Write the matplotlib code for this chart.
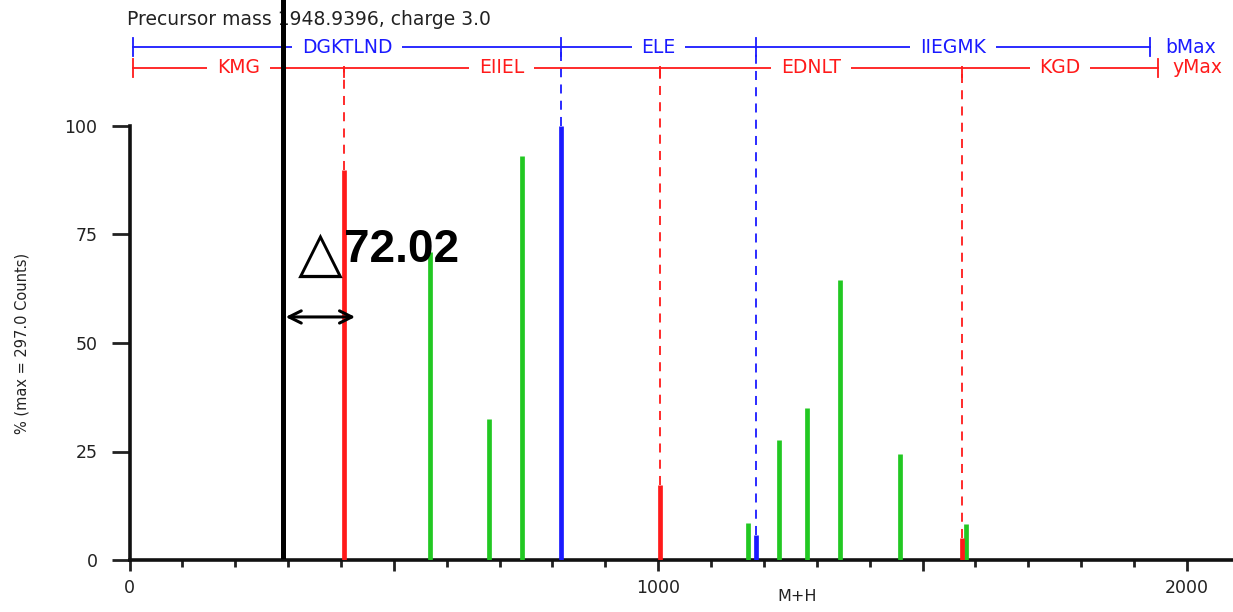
import matplotlib
matplotlib.use("Agg")
import matplotlib.pyplot as plt

# fragment peaks (M+H, % of max)
b_ion_mz = [816, 1185]
b_ion_int = [100, 5.8]
y_ion_mz = [405, 1003, 1575]
y_ion_int = [89.9, 17.3, 5.0]
other_mz = [568, 680, 742, 1170, 1228, 1282, 1344, 1457, 1582]
other_int = [70.9, 32.5, 93.0, 8.5, 27.6, 35.0, 64.5, 24.4, 8.3]

# sequence ladders
b_start, b_end = 7, 1930
b_labels = ["DGKTLND", "ELE", "IIEGMK"]
y_start, y_end = 7, 1945
y_labels = ["KMG", "EIIEL", "EDNLT", "KGD"]

title = "Precursor mass 1948.9396, charge 3.0"
marker_mz = 290
delta_text = "72.02"

RED = "#ff1a1a"
BLUE = "#1a1aff"
GREEN = "#22c822"
GREY = "#222222"

fig = plt.figure(figsize=(12.33, 6.12), dpi=100)
ax = fig.add_axes([129.5 / 1233, 52 / 612, 1 - 129.5 / 1233, 434 / 612])
ax.set_xlim(0, 2087)
ax.set_ylim(0, 100)

for s in ["top", "right"]:
    ax.spines[s].set_visible(False)
ax.spines["left"].set_linewidth(2.6)
ax.spines["bottom"].set_linewidth(2.6)
ax.spines["left"].set_color("#111111")
ax.spines["bottom"].set_color("#111111")

ax.set_xticks([0, 500, 1000, 1500, 2000])
ax.set_xticklabels(["0", "", "1000", "", "2000"])
ax.set_xticks(range(0, 2100, 100), minor=True)
ax.set_yticks([0, 25, 50, 75, 100])
ax.tick_params(axis="x", which="major", length=8, width=2, pad=6, labelsize=12.5, colors=GREY)
ax.tick_params(axis="x", which="minor", length=5, width=2, colors=GREY)
ax.tick_params(axis="y", which="major", length=13, width=2, pad=10, labelsize=12.5, colors=GREY)

ax.set_ylabel("% (max = 297.0 Counts)", fontsize=10.5, color=GREY)
ax.yaxis.set_label_coords(-0.091, 0.5)
ax.text(1262, -8.5, "M+H", ha="center", va="center", fontsize=11.5, color=GREY, clip_on=False)

# peaks
ax.vlines(other_mz, 0, other_int, colors=GREEN, linewidth=3.4, zorder=3)
ax.vlines(y_ion_mz, 0, y_ion_int, colors=RED, linewidth=3.4, zorder=3)
ax.vlines(b_ion_mz, 0, b_ion_int, colors=BLUE, linewidth=3.4, zorder=3)

b_row, y_row = 118.2, 113.4
cap = 2.0

# dashed guide lines from ion peaks to ladders
for mz, h in zip(y_ion_mz, y_ion_int):
    ax.plot([mz, mz], [h, y_row], color=RED, lw=1.3, ls=(0, (5, 4)), clip_on=False, zorder=2)
for mz, h in zip(b_ion_mz, b_ion_int):
    ax.plot([mz, mz], [h, b_row], color=BLUE, lw=1.3, ls=(0, (5, 4)), clip_on=False, zorder=2)


def ladder(row, bounds, labels, color, tag):
    ax.plot([bounds[0], bounds[-1]], [row, row], color=color, lw=1.3, clip_on=False)
    for b in bounds:
        ax.plot([b, b], [row - cap, row + cap], color=color, lw=1.3, clip_on=False)
    for i, lab in enumerate(labels):
        mid = (bounds[i] + bounds[i + 1]) / 2
        ax.text(mid, row, lab, ha="center", va="center", color=color, fontsize=13.5,
                clip_on=False, bbox=dict(facecolor="white", edgecolor="none", pad=7))
    ax.text(bounds[-1] + 28, row, tag, ha="left", va="center", color=color, fontsize=13.5,
            clip_on=False)


ladder(b_row, [b_start] + b_ion_mz + [b_end], b_labels, BLUE, "bMax")
ladder(y_row, [y_start] + y_ion_mz + [y_end], y_labels, RED, "yMax")

ax.text(-5, 124.6, title, ha="left", va="center", fontsize=13.5, color=GREY, clip_on=False)

# mass difference annotation
ax.plot([marker_mz, marker_mz], [0.9, 140], color="black", lw=3.6, clip_on=False, zorder=5)
ax.annotate("", xy=(432, 56), xytext=(marker_mz, 56),
            arrowprops=dict(arrowstyle="<->", color="black", lw=2.2, mutation_scale=22),
            zorder=6)
ax.text(360, 70.5, "\u25B3", ha="center", va="center", fontsize=42,
        family=["DejaVu Sans"], color="black", zorder=6)
ax.text(406, 71.5, delta_text, ha="left", va="center", fontsize=33, fontweight="bold",
        family=["Liberation Sans", "DejaVu Sans"], color="black", zorder=6)

fig.savefig("out.png", dpi=100)
